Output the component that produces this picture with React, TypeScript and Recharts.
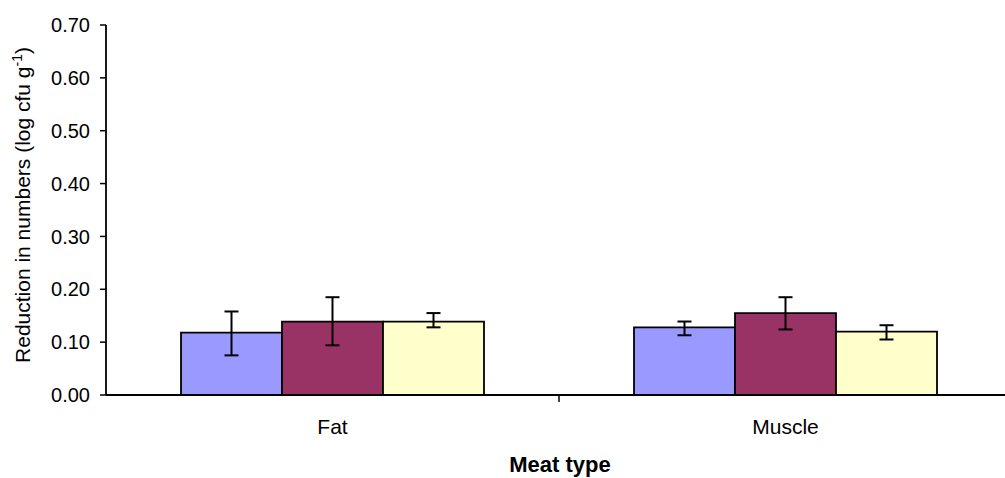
import React from 'react';
import { BarChart, Bar, XAxis, YAxis, ErrorBar } from 'recharts';

const categories = ['Fat', 'Muscle'];
const series1 = [0.118, 0.128];
const series1Err = [[0.043, 0.040], [0.015, 0.011]];
const series2 = [0.139, 0.155];
const series2Err = [[0.045, 0.046], [0.031, 0.030]];
const series3 = [0.139, 0.120];
const series3Err = [[0.011, 0.016], [0.015, 0.012]];
const yTicks = [0, 0.1, 0.2, 0.3, 0.4, 0.5, 0.6, 0.7];

const FONT = '"Liberation Sans", Arial, sans-serif';

const data = categories.map((name, i) => ({
  name,
  s1: series1[i],
  e1: series1Err[i],
  s2: series2[i],
  e2: series2Err[i],
  s3: series3[i],
  e3: series3Err[i],
}));

const XTick = (props: any) => {
  const { x, y, payload } = props;
  const off = payload && typeof payload.offset === 'number' ? payload.offset : 0;
  return (
    <g>
      <line x1={x + off} x2={x + off} y1={y} y2={y + 7} stroke="#000" strokeWidth={1.5} />
      <text x={x} y={y + 39} textAnchor="middle" fontSize={21} fill="#000" fontFamily={FONT}>
        {payload.value}
      </text>
    </g>
  );
};

const YTitle = () => (
  <text
    x={0}
    y={0}
    transform="translate(30,205) rotate(-90)"
    textAnchor="middle"
    fontSize={21}
    fill="#000"
    fontFamily={FONT}
  >
    Reduction in numbers (log cfu g
    <tspan fontSize={14} dy={-8}>-1</tspan>
    <tspan dy={8}>)</tspan>
  </text>
);

export default function App() {
  return (
    <div style={{ position: 'absolute', left: 0, top: 0, width: 1005, height: 478, overflow: 'hidden', background: '#fff' }}>
      <BarChart
        width={1015}
        height={478}
        data={data}
        margin={{ top: 25, right: 3, bottom: 0, left: 0 }}
        barCategoryGap={75}
        barGap={0}
      >
        <XAxis
          dataKey="name"
          height={83}
          axisLine={{ stroke: '#000', strokeWidth: 1.8 }}
          tickLine={false}
          tickSize={0}
          tickMargin={0}
          tick={<XTick />}
          interval={0}
        />
        <YAxis
          width={106}
          domain={[0, 0.7]}
          ticks={yTicks}
          allowDataOverflow
          tickFormatter={(v: number) => v.toFixed(2)}
          axisLine={{ stroke: '#000', strokeWidth: 1.8 }}
          tickLine={{ stroke: '#000', strokeWidth: 1.5 }}
          tickSize={6}
          tickMargin={10}
          tick={{ fill: '#000', fontSize: 20, fontFamily: FONT }}
        />
        <Bar dataKey="s1" fill="#9999FF" stroke="#000" strokeWidth={1.8} isAnimationActive={false}>
          <ErrorBar dataKey="e1" width={7} stroke="#000" strokeWidth={2} />
        </Bar>
        <Bar dataKey="s2" fill="#993366" stroke="#000" strokeWidth={1.8} isAnimationActive={false}>
          <ErrorBar dataKey="e2" width={7} stroke="#000" strokeWidth={2} />
        </Bar>
        <Bar dataKey="s3" fill="#FFFFCC" stroke="#000" strokeWidth={1.8} isAnimationActive={false}>
          <ErrorBar dataKey="e3" width={7} stroke="#000" strokeWidth={2} />
        </Bar>
        <TitleLayer />
      </BarChart>
    </div>
  );
}

function TitleLayer() {
  return (
    <g>
      <YTitle />
      <text x={560} y={472} textAnchor="middle" fontSize={22} fontWeight="bold" fill="#000" fontFamily={FONT}>
        Meat type
      </text>
    </g>
  );
}
